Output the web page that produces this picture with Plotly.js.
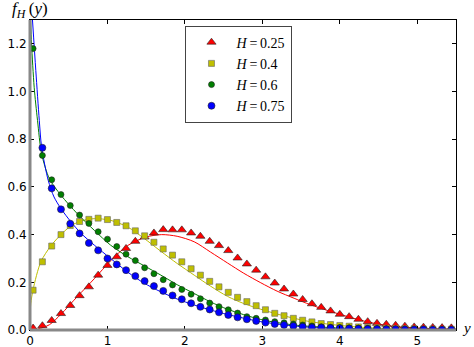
<!DOCTYPE html>
<html>
<head>
<meta charset="utf-8">
<script src="https://cdn.plot.ly/plotly-3.0.1.min.js"></script>
<style>
  html, body { margin: 0; padding: 0; background: #fff; }
  #chart { width: 474px; height: 347px; }
</style>
</head>
<body>
<div id="chart"></div>
<script>
// sample points (shared x for all four simulated series)
const xPts = [0.04, 0.16, 0.28, 0.40, 0.52, 0.64, 0.76, 0.88, 1.00, 1.12, 1.24, 1.36,
  1.48, 1.60, 1.72, 1.84, 1.96, 2.08, 2.20, 2.32, 2.44, 2.56, 2.68, 2.80, 2.92, 3.04,
  3.16, 3.28, 3.40, 3.52, 3.64, 3.76, 3.88, 4.00, 4.12, 4.24, 4.36, 4.48, 4.60, 4.72,
  4.84, 4.96, 5.08, 5.20, 5.32, 5.44];

const ptsH025 = [0.008, 0.018, 0.040, 0.069, 0.103, 0.144, 0.181, 0.230, 0.271, 0.307,
  0.342, 0.372, 0.390, 0.407, 0.421, 0.420, 0.420, 0.407, 0.393, 0.372, 0.354, 0.333,
  0.302, 0.277, 0.251, 0.223, 0.197, 0.172, 0.151, 0.128, 0.110, 0.095, 0.080, 0.066,
  0.056, 0.045, 0.035, 0.028, 0.024, 0.020, 0.016, 0.013, 0.012, 0.011, 0.010, 0.009];

const ptsH04 = [0.167, 0.286, 0.352, 0.400, 0.438, 0.455, 0.464, 0.469, 0.463, 0.451,
  0.437, 0.416, 0.395, 0.368, 0.340, 0.314, 0.286, 0.257, 0.230, 0.204, 0.181, 0.158,
  0.137, 0.119, 0.102, 0.085, 0.070, 0.060, 0.049, 0.041, 0.034, 0.027, 0.023, 0.019,
  0.016, 0.013, 0.011, 0.010, 0.008, 0.007, 0.006, 0.005, 0.004, 0.004, 0.003, 0.003];

const ptsH06 = [1.180, 0.732, 0.630, 0.568, 0.522, 0.482, 0.447, 0.412, 0.381, 0.350,
  0.318, 0.291, 0.261, 0.236, 0.211, 0.189, 0.170, 0.150, 0.131, 0.113, 0.098, 0.085,
  0.071, 0.056, 0.049, 0.042, 0.035, 0.030, 0.025, 0.021, 0.017, 0.014, 0.012, 0.010,
  0.009, 0.008, 0.007, 0.006, 0.005, 0.004, 0.004, 0.003, 0.003, 0.002, 0.002, 0.002];

const ptsH075 = [1.600, 0.764, 0.594, 0.506, 0.446, 0.405, 0.365, 0.334, 0.300, 0.275,
  0.251, 0.226, 0.205, 0.184, 0.164, 0.145, 0.129, 0.112, 0.097, 0.086, 0.074, 0.063,
  0.053, 0.045, 0.038, 0.031, 0.025, 0.021, 0.017, 0.014, 0.011, 0.010, 0.008, 0.007,
  0.006, 0.005, 0.004, 0.004, 0.003, 0.003, 0.002, 0.002, 0.002, 0.001, 0.001, 0.001];

// theoretical densities
const curveX025 = [0, 0.10, 0.25, 0.40, 0.61, 0.83, 1.04, 1.26, 1.50, 1.70, 1.90, 2.12,
  2.33, 2.55, 2.76, 2.98, 3.19, 3.41, 3.62, 3.84, 4.05, 4.27, 4.48, 4.70, 5.00, 5.50];
const curveY025 = [0, 0.004, 0.022, 0.066, 0.140, 0.215, 0.290, 0.354, 0.390, 0.400,
  0.393, 0.370, 0.327, 0.281, 0.238, 0.198, 0.163, 0.133, 0.106, 0.082, 0.061, 0.041,
  0.026, 0.015, 0.008, 0.003];

const curveX04 = [0, 0.002, 0.01, 0.04, 0.14, 0.27, 0.40, 0.53, 0.66, 0.83, 1.04, 1.26,
  1.47, 1.69, 1.90, 2.12, 2.33, 2.55, 2.76, 2.98, 3.19, 3.41, 3.62, 3.84, 4.10, 4.40,
  4.80, 5.50];
const curveY04 = [0, 0.070, 0.110, 0.170, 0.286, 0.353, 0.400, 0.437, 0.457, 0.467,
  0.460, 0.432, 0.385, 0.330, 0.279, 0.230, 0.184, 0.141, 0.111, 0.087, 0.067, 0.049,
  0.035, 0.025, 0.016, 0.009, 0.004, 0.001];

const curveX06 = [0.008, 0.02, 0.054, 0.097, 0.15, 0.25, 0.40, 0.61, 0.83, 1.04, 1.26,
  1.47, 1.69, 1.90, 2.12, 2.33, 2.55, 2.98, 3.41, 3.84, 4.30, 4.80, 5.50];
const curveY06 = [1.30, 1.20, 1.018, 0.879, 0.739, 0.635, 0.565, 0.488, 0.418, 0.356,
  0.308, 0.270, 0.230, 0.190, 0.153, 0.118, 0.087, 0.044, 0.021, 0.011, 0.005, 0.002,
  0.001];

const curveX075 = [0.032, 0.075, 0.12, 0.15, 0.235, 0.31, 0.40, 0.53, 0.66, 0.83, 1.04,
  1.26, 1.47, 1.69, 1.90, 2.12, 2.33, 2.55, 2.98, 3.41, 3.84, 4.30, 4.80, 5.50];
const curveY075 = [1.30, 1.088, 0.879, 0.767, 0.628, 0.558, 0.509, 0.453, 0.405, 0.356,
  0.300, 0.243, 0.197, 0.160, 0.130, 0.105, 0.084, 0.065, 0.035, 0.017, 0.007, 0.003,
  0.001, 0.0005];

const legendNames = ['<i>H</i>\u2009=\u20090.25', '<i>H</i>\u2009=\u20090.4',
  '<i>H</i>\u2009=\u20090.6', '<i>H</i>\u2009=\u20090.75'];
const yTicks = [0.0, 0.2, 0.4, 0.6, 0.8, 1.0, 1.2];
const xTicks = [0, 1, 2, 3, 4, 5];

const RED = '#ff0000', YEL = '#bfbf00', GRN = '#008000', BLU = '#0000ff';

function curve(x, y, color) {
  return {
    x: x, y: y, mode: 'lines', type: 'scatter', showlegend: false,
    line: { color: color, width: 1, shape: 'spline', smoothing: 0.8 },
    hoverinfo: 'skip'
  };
}

function points(y, name, color, symbol, size, edge) {
  return {
    x: xPts, y: y, mode: 'markers', type: 'scatter', name: name,
    marker: { color: color, symbol: symbol, size: size, line: { color: edge, width: 0.6 } }
  };
}

const data = [
  curve(curveX025, curveY025, RED),
  curve(curveX04, curveY04, YEL),
  curve(curveX06, curveY06, GRN),
  curve(curveX075, curveY075, BLU),
  points(ptsH025, legendNames[0], RED, 'triangle-up', 8, '#222'),
  points(ptsH04, legendNames[1], YEL, 'square', 6, '#666'),
  points(ptsH06, legendNames[2], GRN, 'circle', 6, '#222'),
  points(ptsH075, legendNames[3], BLU, 'circle', 7, '#222')
];

const axisFont = { family: 'DejaVu Sans, sans-serif', size: 12, color: '#000' };
const mathFont = { family: 'Liberation Serif, DejaVu Serif, serif', size: 15, color: '#000' };

const layout = {
  width: 474, height: 347,
  margin: { l: 30, r: 18, t: 20, b: 17, pad: 0 },
  paper_bgcolor: '#fff', plot_bgcolor: '#fff',
  showlegend: true,
  xaxis: {
    range: [0, 5.5], tickvals: xTicks, ticktext: xTicks.map(String),
    ticks: 'inside', ticklen: 4, tickcolor: '#000', tickwidth: 1,
    showline: true, linecolor: '#000', linewidth: 1, mirror: 'ticks',
    showgrid: false, zeroline: false, tickfont: axisFont
  },
  yaxis: {
    range: [0, 1.3], tickvals: yTicks, ticktext: yTicks.map(v => v.toFixed(1)),
    ticks: 'inside', ticklen: 4, tickcolor: '#000', tickwidth: 1,
    showline: true, linecolor: '#000', linewidth: 1, mirror: 'ticks',
    showgrid: false, zeroline: false, tickfont: axisFont
  },
  legend: {
    x: 0.365, y: 0.982, xanchor: 'left', yanchor: 'top',
    bgcolor: '#fff', bordercolor: '#444', borderwidth: 1,
    font: { family: 'Liberation Serif, DejaVu Serif, serif', size: 14, color: '#000' },
    itemwidth: 40, tracegroupgap: 0
  },
  shapes: [
    // thick grey left and bottom spines
    { type: 'line', xref: 'paper', yref: 'paper', x0: 0, x1: 0, y0: 0, y1: 1,
      line: { color: '#888', width: 3 }, layer: 'above' },
    { type: 'line', xref: 'paper', yref: 'paper', x0: 0, x1: 1, y0: 0, y1: 0,
      line: { color: '#888', width: 3 }, layer: 'above' }
  ],
  annotations: [
    { text: '<i>f</i><sub><i>H</i></sub>\u2009(<i>y</i>)', xref: 'paper', yref: 'paper',
      x: 0, y: 1, xanchor: 'center', yanchor: 'bottom', showarrow: false, yshift: -3,
      font: Object.assign({}, mathFont, { size: 17 }) },
    { text: '<i>y</i>', xref: 'paper', yref: 'paper',
      x: 1, y: 0, xanchor: 'left', yanchor: 'middle', showarrow: false, xshift: 4, yshift: 2,
      font: mathFont }
  ]
};

Plotly.newPlot('chart', data, layout, { displayModeBar: false, staticPlot: true });
</script>
</body>
</html>
